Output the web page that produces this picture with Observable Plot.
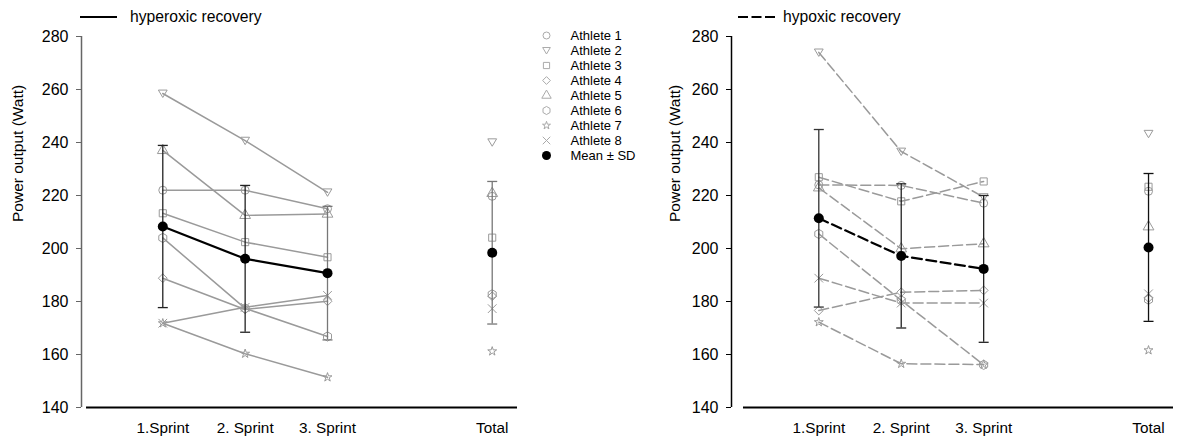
<!DOCTYPE html>
<html><head><meta charset="utf-8">
<script src="https://cdn.jsdelivr.net/npm/d3@7"></script>
<script src="https://cdn.jsdelivr.net/npm/@observablehq/plot@0.6"></script>
<style>
body{margin:0;background:#fff;font-family:"Liberation Sans",Arial,sans-serif;}
#wrap{position:relative;width:1181px;height:442px;overflow:hidden;background:#fff;}
.abs{position:absolute;}
.lg{position:absolute;font-size:15.7px;line-height:18px;color:#000;white-space:nowrap;}
</style></head><body><div id="wrap"></div>
<script>
// ---------- data ----------
const sprintLabels = ["1.Sprint", "2. Sprint", "3. Sprint", "Total"];
const sprintPositions = [1, 2, 3, 5];
const athleteNames = ["Athlete 1","Athlete 2","Athlete 3","Athlete 4","Athlete 5","Athlete 6","Athlete 7","Athlete 8"];
const meanLabel = "Mean \u00b1 SD";
const yTicks = [140, 160, 180, 200, 220, 240, 260, 280];

// values per athlete: 1.Sprint, 2. Sprint, 3. Sprint, Total
const hyperoxicAthletes = [
  [222.0, 222.0, 215.0, 219.7],
  [258.5, 240.7, 221.2, 240.1],
  [213.3, 202.4, 196.7, 204.1],
  [188.8, 177.0, 180.1, 182.0],
  [237.0, 212.5, 213.0, 220.8],
  [204.0, 177.4, 166.8, 182.7],
  [171.8, 160.3, 151.4, 161.2],
  [171.8, 177.8, 182.3, 177.3]
];
const hyperoxicMean = [208.3, 196.1, 190.7, 198.4];
const hyperoxicSD   = [30.6, 27.7, 25.2, 26.9];

const hypoxicAthletes = [
  [224.0, 223.8, 217.1, 221.6],
  [274.0, 236.6, 219.4, 243.3],
  [226.9, 217.8, 225.3, 223.3],
  [176.6, 183.5, 184.2, 181.4],
  [222.9, 199.9, 201.8, 208.2],
  [205.5, 180.4, 156.1, 180.7],
  [172.2, 156.5, 156.2, 161.6],
  [188.8, 179.4, 179.4, 182.9]
];
const hypoxicMean = [211.4, 197.2, 192.3, 200.4];
const hypoxicSD   = [33.5, 27.2, 27.7, 27.9];

// ---------- styles ----------
const triDown = {draw(ctx, size){ const r = Math.sqrt(size / Math.PI); ctx.moveTo(0, r); ctx.lineTo(-r * 1.1, -r * 0.85); ctx.lineTo(r * 1.1, -r * 0.85); ctx.closePath(); }};
const capSym = {draw(ctx, size){ const r = Math.sqrt(size / Math.PI); ctx.moveTo(-r, 0); ctx.lineTo(r, 0); }};
const athleteSymbols = ["circle", triDown, "square", "diamond2", "triangle", "hexagon", "star", "times"];
const athleteR = [4, 4, 4, 4, 4, 4, 2.8, 4];
const legendR = [3.5, 3.5, 3.5, 3.5, 3.5, 3.5, 2.5, 3.5];
const gray = "#9a9a9a";
const font = '"Liberation Sans", Arial, sans-serif';

const wrap = document.getElementById("wrap");

function panel(o) {
  const marks = [];
  const pts = (vals) => sprintPositions.map((x, j) => ({x, y: vals[j]}));
  // axis lines
  marks.push(Plot.ruleX([o.xDomain[0]], {y1: 140, y2: 280, stroke: o.axisColor, strokeWidth: 1.5}));
  marks.push(Plot.ruleY([140], {x1: o.xAxisStart, x2: o.xDomain[1], stroke: "#000", strokeWidth: 2}));
  marks.push(Plot.axisY({ticks: yTicks, tickSize: 5, tickPadding: 8, stroke: o.axisColor, label: null, fontSize: 16}));
  marks.push(Plot.axisX({ticks: sprintPositions, tickFormat: d => sprintLabels[sprintPositions.indexOf(d)], tickSize: 0, tickPadding: 15, label: null, fontSize: 15.3}));
  marks.push(Plot.text(["Power output (Watt)"], {frameAnchor: "left", rotate: -90, dx: o.labelDx, fontSize: 15.5}));
  // athletes
  o.athletes.forEach((vals, i) => {
    const p = pts(vals);
    marks.push(Plot.line(p.slice(0, 3), {x: "x", y: "y", stroke: gray, strokeWidth: 1.5, strokeDasharray: o.dash}));
    marks.push(Plot.dot(p, {x: "x", y: "y", symbol: athleteSymbols[i], r: athleteR[i], stroke: gray, strokeWidth: 1, fill: "none"}));
  });
  // error bars
  const mp = pts(o.mean).map((d, j) => ({...d, lo: o.mean[j] - o.sd[j], hi: o.mean[j] + o.sd[j], c: o.barColors[j]}));
  marks.push(Plot.ruleX(mp, {x: "x", y1: "lo", y2: "hi", stroke: "c", strokeWidth: 1.3}));
  marks.push(Plot.dot(mp, {x: "x", y: "lo", symbol: capSym, r: 5, stroke: "c", strokeWidth: 1.3}));
  marks.push(Plot.dot(mp, {x: "x", y: "hi", symbol: capSym, r: 5, stroke: "c", strokeWidth: 1.3}));
  // mean
  marks.push(Plot.line(mp.slice(0, 3), {x: "x", y: "y", stroke: "#000", strokeWidth: 2.2, strokeDasharray: o.meanDash}));
  marks.push(Plot.dot(mp, {x: "x", y: "y", r: 5, fill: "#000", stroke: "none"}));

  const svg = Plot.plot({
    width: o.width, height: 442,
    marginLeft: o.xRange[0], marginRight: o.width - o.xRange[1], marginTop: 36, marginBottom: 35,
    x: {domain: o.xDomain, range: o.xRange},
    y: {domain: [140, 280], range: [407, 36]},
    color: {type: "identity"},
    style: {fontFamily: font, fontSize: "15px", color: "#000", background: "transparent"},
    marks
  });
  svg.classList.add("abs");
  svg.style.left = o.left + "px";
  svg.style.top = "0px";
  wrap.appendChild(svg);
}

panel({
  athletes: hyperoxicAthletes, mean: hyperoxicMean, sd: hyperoxicSD,
  dash: null, meanDash: null, axisColor: "#666",
  barColors: ["#222", "#222", "#777", "#777"],
  xDomain: [0.013, 5.307], xRange: [81, 517], xAxisStart: 0.074,
  width: 530, left: 0, labelDx: -63
});
panel({
  athletes: hypoxicAthletes, mean: hypoxicMean, sd: hypoxicSD,
  dash: "10,4", meanDash: "10,4.5", axisColor: "#000",
  barColors: ["#333", "#222", "#222", "#111"],
  xDomain: [-0.059, 5.303], xRange: [91, 533], xAxisStart: 0.0865,
  width: 541, left: 640, labelDx: -56
});

// ---------- middle legend (Plot) ----------
const legendItems = [...athleteNames, meanLabel];
const legendMarks = [];
athleteNames.forEach((n, i) => {
  legendMarks.push(Plot.dot([n], {y: d => d, frameAnchor: "left", symbol: athleteSymbols[i], r: legendR[i], stroke: "#aaa", strokeWidth: 1, fill: "none"}));
});
legendMarks.push(Plot.dot([meanLabel], {y: d => d, frameAnchor: "left", r: 4.5, fill: "#000"}));
legendMarks.push(Plot.text(legendItems, {y: d => d, text: d => d, frameAnchor: "left", dx: 24, textAnchor: "start", fontSize: 13}));
const leg = Plot.plot({
  width: 130, height: 185, marginLeft: 16, marginRight: 0, marginTop: 0, marginBottom: 0,
  y: {type: "point", domain: legendItems, range: [23.3, 166.7], axis: null},
  style: {fontFamily: font, fontSize: "13px", color: "#000", background: "transparent"},
  marks: legendMarks
});
leg.classList.add("abs");
leg.style.left = "530px"; leg.style.top = "0px";
wrap.appendChild(leg);

// ---------- top legends ----------
function lineLegend(x, lineW, textX, label, dash) {
  const s = d3.create("svg").attr("class", "abs").attr("width", lineW + 4).attr("height", 10)
    .style("left", x + "px").style("top", "12px");
  s.append("line").attr("x1", 1).attr("x2", lineW + 1).attr("y1", 5).attr("y2", 5)
    .attr("stroke", "#000").attr("stroke-width", 2).attr("stroke-dasharray", dash);
  wrap.appendChild(s.node());
  const t = document.createElement("div");
  t.className = "lg"; t.textContent = label;
  t.style.left = textX + "px"; t.style.top = "8px";
  wrap.appendChild(t);
}
lineLegend(79, 37, 130, "hyperoxic recovery", null);
lineLegend(737, 37, 783, "hypoxic recovery", "10,3.5");
</script></body></html>
